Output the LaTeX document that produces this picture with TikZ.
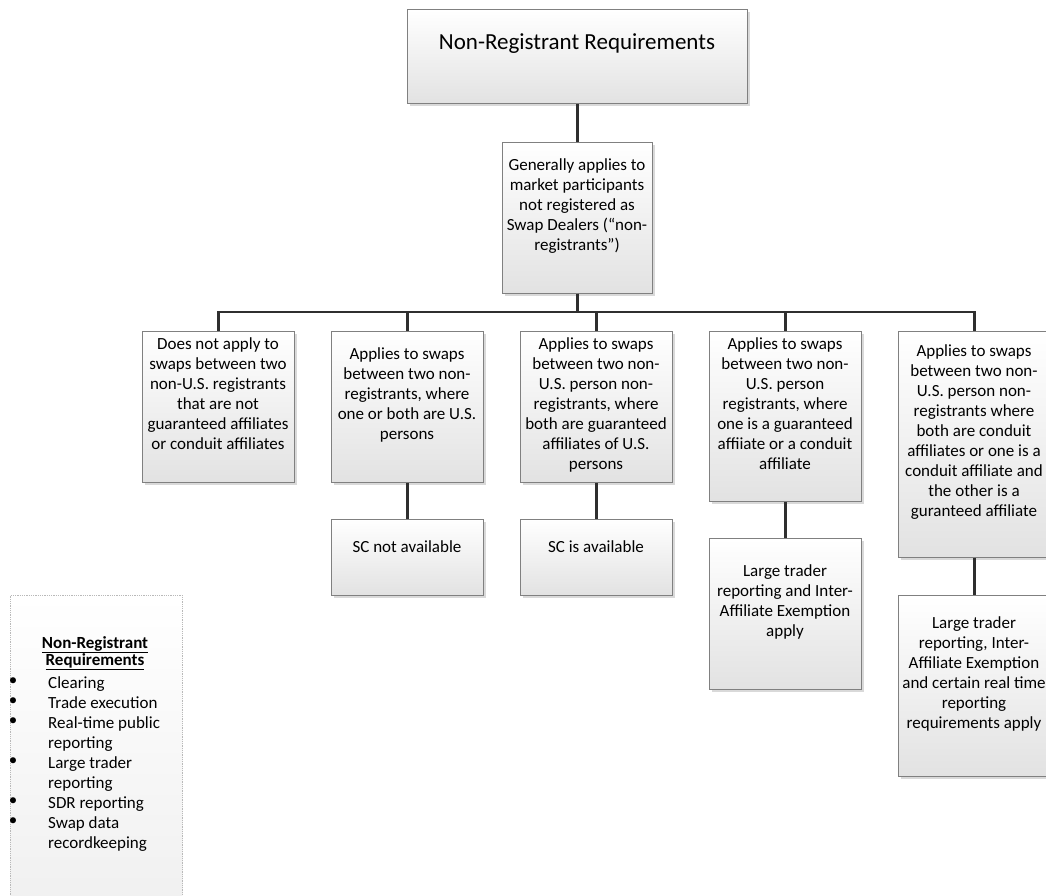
\documentclass[tikz,border=0pt]{standalone}
\usepackage{fontspec}
\setmainfont{Carlito}
\usetikzlibrary{shadows}
\definecolor{edgegray}{HTML}{808080}
\definecolor{conncol}{HTML}{2F2F2F}
\definecolor{boxbot}{HTML}{E2E2E2}
\tikzset{
  box/.style={draw=edgegray, line width=0.9pt, top color=white, bottom color=boxbot,
    inner sep=0pt, anchor=north west,
    drop shadow={shadow xshift=2.5pt, shadow yshift=-2.5pt, fill=black, opacity=0.15}},
  txt/.style={inner sep=0pt, anchor=north, align=center,
    font=\fontsize{17}{20}\selectfont, execute at begin node={\rule{0pt}{14pt}}},
  conn/.style={draw=conncol, line width=2.2pt},
}
\begin{document}
\begin{tikzpicture}[x=1pt,y=1pt]
\useasboundingbox (0,0) rectangle (1046,-896);

% boxes
\node[box, minimum width=340pt, minimum height=94pt] (top) at (407,-9) {};
\node[box, minimum width=150pt, minimum height=151pt] (gen) at (502,-142) {};
\node[box, minimum width=152pt, minimum height=151pt] (r1) at (142,-331) {};
\node[box, minimum width=152pt, minimum height=151pt] (r2) at (331,-331) {};
\node[box, minimum width=152pt, minimum height=151pt] (r3) at (520,-331) {};
\node[box, minimum width=152pt, minimum height=170pt] (r4) at (709,-331) {};
\node[box, minimum width=152pt, minimum height=226pt] (r5) at (898,-331) {};
\node[box, minimum width=152pt, minimum height=76pt] (s2) at (331,-519) {};
\node[box, minimum width=152pt, minimum height=76pt] (s3) at (520,-519) {};
\node[box, minimum width=152pt, minimum height=151pt] (s4) at (709,-538) {};
\node[box, minimum width=152pt, minimum height=181pt] (s5) at (898,-595) {};

% texts
\node[inner sep=0pt, anchor=base, font=\fontsize{23}{28}\selectfont] (toptxt) at (577,-50) {Non-Registrant Requirements};
\node[txt] (gentxt) at (577,-158) {Generally applies to\\market participants\\not registered as\\Swap Dealers (“non-\\registrants”)};
\node[txt] (r1txt) at (218,-337) {Does not apply to\\swaps between two\\non-U.S. registrants\\that are not\\guaranteed affiliates\\or conduit affiliates};
\node[txt] (r2txt) at (407,-347) {Applies to swaps\\between two non-\\registrants, where\\one or both are U.S.\\persons};
\node[txt] (r3txt) at (596,-337) {Applies to swaps\\between two non-\\U.S. person non-\\registrants, where\\both are guaranteed\\affiliates of U.S.\\persons};
\node[txt] (r4txt) at (785,-337) {Applies to swaps\\between two non-\\U.S. person\\registrants, where\\one is a guaranteed\\affiiate or a conduit\\affiliate};
\node[txt] (r5txt) at (974,-344) {Applies to swaps\\between two non-\\U.S. person non-\\registrants where\\both are conduit\\affiliates or one is a\\conduit affiliate and\\the other is a\\guranteed affiliate};
\node[txt] (s2txt) at (407,-538) {SC not available};
\node[txt] (s3txt) at (596,-538) {SC is available};
\node[txt] (s4txt) at (785,-564) {Large trader\\reporting and Inter-\\Affiliate Exemption\\apply};
\node[txt] (s5txt) at (974,-616) {Large trader\\reporting, Inter-\\Affiliate Exemption\\and certain real time\\reporting\\requirements apply};

% connectors
\coordinate (bus) at (577,-312);
\draw[conn] (top.south) -- (gen.north);
\foreach \r in {r1,r2,r3,r4,r5}
  \draw[conn] (gen.south) -- (gen.south |- bus) -| (\r.north);
\draw[conn] (r2.south) -- (s2.north);
\draw[conn] (r3.south) -- (s3.north);
\draw[conn] (r4.south) -- (s4.north);
\draw[conn] (r5.south) -- (s5.north);

% legend
\node[draw=gray!55, densely dotted, line width=0.8pt, top color=white, bottom color=gray!12,
  minimum width=172pt, minimum height=320pt, anchor=north west, inner sep=0pt] (leg) at (10,-595) {};
\node[txt, font=\bfseries\fontsize{17}{17}\selectfont] (legtitle) at (95,-636) {\underline{Non-Registrant}\\\underline{Requirements}};
\node[txt, anchor=north west, align=left] (leglist) at (48,-676) {Clearing\\Trade execution\\Real-time public\\reporting\\Large trader\\reporting\\SDR reporting\\Swap data\\recordkeeping};
\node[txt] (legbul) at (13,-678) {•\\•\\•\\\mbox{}\\•\\\mbox{}\\•\\•};
\end{tikzpicture}
\end{document}
